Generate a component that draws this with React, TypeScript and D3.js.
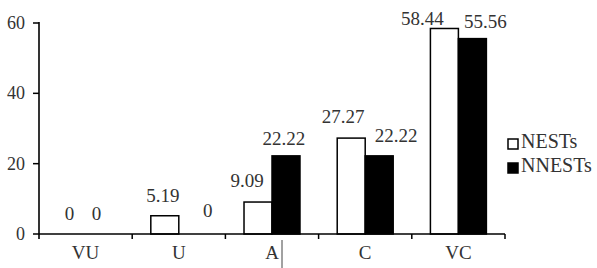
import React from "react";
import * as d3 from "d3";

const categories = ["VU", "U", "A", "C", "VC"];
const seriesNames = ["NESTs", "NNESTs"];
const nestValues = [0, 5.19, 9.09, 27.27, 58.44];
const nnestValues = [0, 0, 22.22, 22.22, 55.56];
const yTicks = [0, 20, 40, 60];

// label nudges (pixels) relative to bar centre/top, per series & category
const nestLabelNudge = [[-2, -14], [-2, -14], [-11, -15], [-8, -15], [-22, -3]];
const nnestLabelNudge = [[-3, -14], [15, -17], [-2, -11], [17, -14], [13, -11]];

const W = 597;
const H = 268;
const FONT = "'Liberation Serif', 'Times New Roman', serif";

export default function App() {
  const x0 = d3.scaleBand<string>().domain(categories).range([39, 505]).paddingInner(0).paddingOuter(0);
  const x1 = d3.scaleBand<string>().domain(seriesNames).range([0, x0.bandwidth()]).paddingInner(0).paddingOuter(0.665);
  const y = d3.scaleLinear().domain([0, 60]).range([234, 23]);

  const series = [
    { name: "NESTs", values: nestValues, fill: "#ffffff", nudge: nestLabelNudge },
    { name: "NNESTs", values: nnestValues, fill: "#000000", nudge: nnestLabelNudge },
  ];

  const boundaries = d3.range(categories.length + 1).map((i) => 39 + i * x0.step());
  const txt = "#333";

  return (
    <svg width={W} height={H} style={{ position: "absolute", left: 0, top: 0, background: "#fff" }} fontFamily={FONT}>
      <rect x={0} y={0} width={W} height={H} fill="#fff" />
      {series.map((s) =>
        categories.map((c, i) => {
          const bx = (x0(c) ?? 0) + (x1(s.name) ?? 0);
          const v = s.values[i];
          if (v <= 0) return null;
          return (
            <rect
              key={s.name + c}
              x={bx}
              y={y(v)}
              width={x1.bandwidth()}
              height={y(0) - y(v)}
              fill={s.fill}
              stroke="#000"
              strokeWidth={1.5}
            />
          );
        })
      )}
      {series.map((s) =>
        categories.map((c, i) => {
          const cx = (x0(c) ?? 0) + (x1(s.name) ?? 0) + x1.bandwidth() / 2;
          const v = s.values[i];
          return (
            <text
              key={"l" + s.name + c}
              x={cx + s.nudge[i][0]}
              y={y(v) + s.nudge[i][1]}
              textAnchor="middle"
              fontSize={19}
              fill={txt}
            >
              {String(v)}
            </text>
          );
        })
      )}
      <line x1={39} x2={39} y1={22} y2={239} stroke="#000" strokeWidth={1.6} />
      {yTicks.map((t) => (
        <g key={"yt" + t}>
          <line x1={33} x2={39} y1={y(t)} y2={y(t)} stroke="#000" strokeWidth={1.5} />
          <text x={25} y={y(t) + 6} textAnchor="end" fontSize={18} fill={txt}>
            {t}
          </text>
        </g>
      ))}
      <line x1={39} x2={505} y1={234} y2={234} stroke="#000" strokeWidth={1.6} />
      {boundaries.slice(1).map((b, i) => (
        <line key={"xt" + i} x1={b} x2={b} y1={234} y2={239} stroke="#000" strokeWidth={1.5} />
      ))}
      {categories.map((c) => (
        <text key={"xl" + c} x={(x0(c) ?? 0) + x0.bandwidth() / 2} y={259} textAnchor="middle" fontSize={19} fill={txt}>
          {c}
        </text>
      ))}
      <line x1={282} x2={282} y1={240} y2={268} stroke="#444" strokeWidth={1} />
      {series.map((s, i) => (
        <g key={"lg" + s.name}>
          <rect x={508} y={139 + i * 24} width={10} height={10} fill={s.fill} stroke="#000" strokeWidth={1.5} />
          <text x={521} y={148 + i * 24} fontSize={20} fill={txt}>
            {s.name}
          </text>
        </g>
      ))}
    </svg>
  );
}
